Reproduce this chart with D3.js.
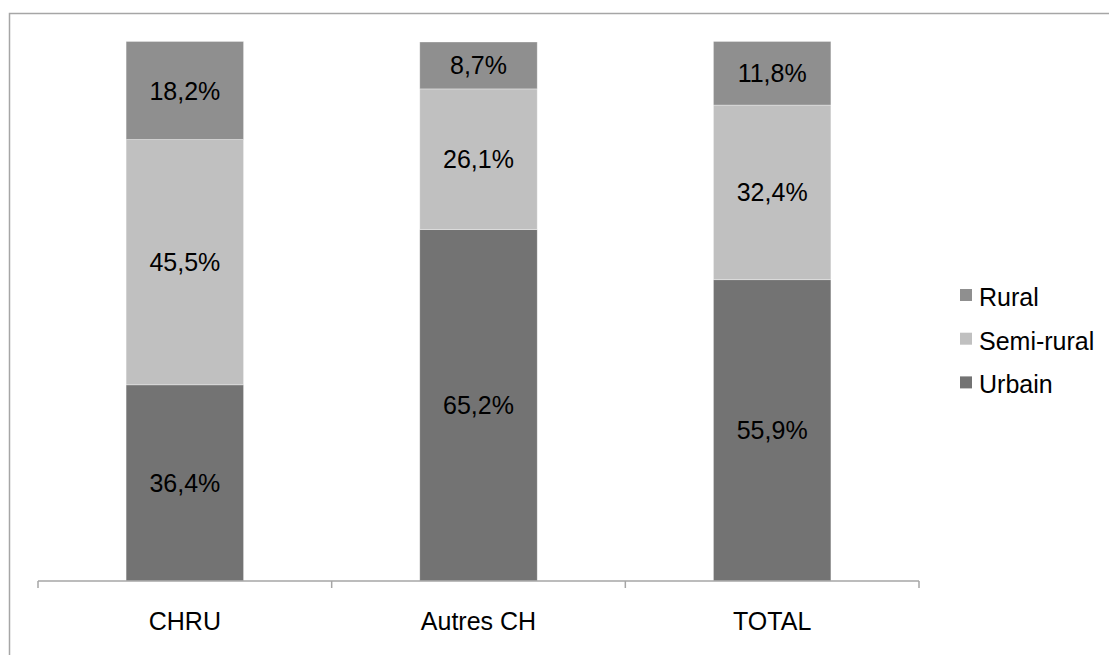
<!DOCTYPE html>
<html>
<head>
<meta charset="utf-8">
<script src="https://cdn.jsdelivr.net/npm/d3@7"></script>
<style>
  html, body { margin: 0; padding: 0; background: #fff; }
  svg { display: block; font-family: "Liberation Sans", Arial, sans-serif; }
</style>
</head>
<body>
<svg id="chart" width="1109" height="655"></svg>
<script>
// Répartition des patients par type de commune, selon l'établissement
const categories = ["CHRU", "Autres CH", "TOTAL"];
const seriesNames = ["Urbain", "Semi-rural", "Rural"];
const urbain = [36.4, 65.2, 55.9];
const semiRural = [45.5, 26.1, 32.4];
const rural = [18.2, 8.7, 11.8];
const seriesColors = ["#737373", "#c0c0c0", "#8f8f8f"];

const svg = d3.select("#chart");
const W = 1109, H = 655;

// Chart frame (extends beyond the visible area on the right and bottom)
svg.append("rect")
  .attr("x", 9.5).attr("y", 13.5)
  .attr("width", W + 20).attr("height", H + 20)
  .attr("fill", "#fff")
  .attr("stroke", "#a6a6a6").attr("stroke-width", 1.5);

const plot = { left: 38, right: 919, top: 42, bottom: 581 };

const x = d3.scaleBand()
  .domain(categories)
  .range([plot.left, plot.right])
  .paddingInner(0.6)
  .paddingOuter(0.3);

const y = d3.scaleLinear()
  .domain([0, 100])
  .range([plot.bottom, plot.top]);

const color = d3.scaleOrdinal().domain(seriesNames).range(seriesColors);

const rows = categories.map((c, i) => ({
  category: c,
  "Urbain": urbain[i],
  "Semi-rural": semiRural[i],
  "Rural": rural[i]
}));

const stacked = d3.stack().keys(seriesNames)(rows);

const layers = svg.append("g").selectAll("g")
  .data(stacked)
  .join("g")
  .attr("fill", d => color(d.key));

layers.selectAll("rect")
  .data(d => d)
  .join("rect")
  .attr("x", d => x(d.data.category))
  .attr("width", x.bandwidth())
  .attr("y", d => y(d[1]))
  .attr("height", d => y(d[0]) - y(d[1]))
  .attr("stroke", "#ffffff")
  .attr("stroke-opacity", 0.45)
  .attr("stroke-width", 0.75);

// Value labels centred in each segment
const fmt = v => d3.format(".1f")(v).replace(".", ",") + "%";
svg.append("g").selectAll("g")
  .data(stacked)
  .join("g")
  .selectAll("text")
  .data(d => d.map(s => ({ s, key: d.key })))
  .join("text")
  .attr("x", d => x(d.s.data.category) + x.bandwidth() / 2)
  .attr("y", d => (y(d.s[0]) + y(d.s[1])) / 2)
  .attr("dy", "0.36em")
  .attr("text-anchor", "middle")
  .attr("font-size", 25)
  .attr("fill", "#000")
  .text(d => fmt(d.s.data[d.key]));

// Category axis
const axisG = svg.append("g")
  .attr("transform", `translate(0,${plot.bottom})`);
axisG.append("line")
  .attr("x1", plot.left).attr("x2", plot.right)
  .attr("y1", 0).attr("y2", 0)
  .attr("stroke", "#a6a6a6").attr("stroke-width", 1.5);
const step = x.step();
const tickPos = d3.range(categories.length + 1).map(i => plot.left + i * step);
axisG.selectAll("line.tick")
  .data(tickPos)
  .join("line")
  .attr("class", "tick")
  .attr("x1", d => d).attr("x2", d => d)
  .attr("y1", 0).attr("y2", 7)
  .attr("stroke", "#a6a6a6").attr("stroke-width", 1.5);
axisG.selectAll("text")
  .data(categories)
  .join("text")
  .attr("x", d => x(d) + x.bandwidth() / 2)
  .attr("y", 49)
  .attr("text-anchor", "middle")
  .attr("font-size", 25)
  .attr("fill", "#000")
  .text(d => d);

// Legend (top to bottom: Rural, Semi-rural, Urbain)
const legendItems = seriesNames.slice().reverse();
const legend = svg.append("g").attr("transform", "translate(960,295)");
const li = legend.selectAll("g")
  .data(legendItems)
  .join("g")
  .attr("transform", (d, i) => `translate(0,${i * 43.7})`);
li.append("rect")
  .attr("x", 0).attr("y", -6)
  .attr("width", 12).attr("height", 12)
  .attr("fill", d => color(d));
li.append("text")
  .attr("x", 19).attr("y", 11)
  .attr("font-size", 25)
  .attr("fill", "#000")
  .text(d => d);
</script>
</body>
</html>
